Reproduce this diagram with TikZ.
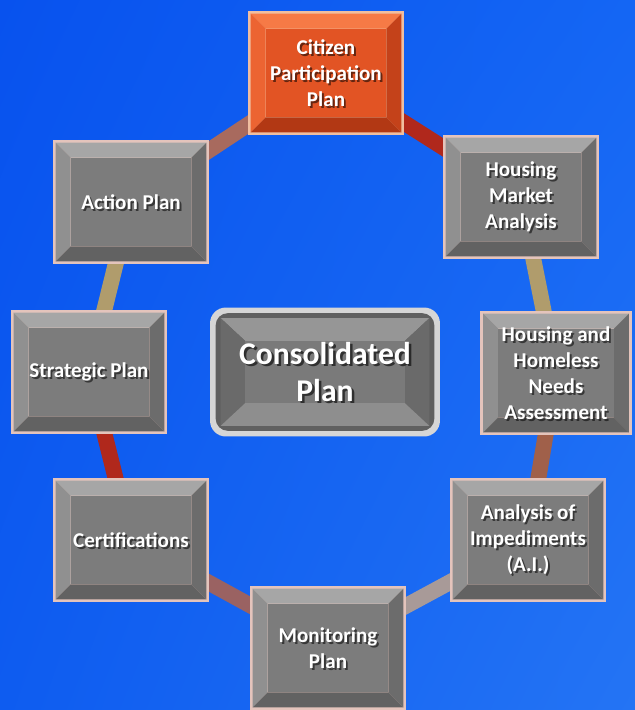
\documentclass[tikz,border=0pt]{standalone}
\usepackage{fontspec}
\setmainfont{Carlito}
\usetikzlibrary{shadings}
\pgfdeclarelayer{back}
\pgfdeclarelayer{conn}
\pgfsetlayers{back,conn,main}
\definecolor{bgUL}{RGB}{8,82,238}
\definecolor{bgUR}{RGB}{20,102,244}
\definecolor{bgLL}{RGB}{14,92,240}
\definecolor{bgLR}{RGB}{36,116,244}
\definecolor{cPink}{RGB}{168,106,94}
\definecolor{cRed}{RGB}{176,40,28}
\definecolor{cTan}{RGB}{176,156,108}
\definecolor{cBrown}{RGB}{160,96,74}
\definecolor{cGreyPink}{RGB}{168,154,152}
\definecolor{cMauve}{RGB}{154,98,98}
\definecolor{gRim}{RGB}{228,196,188}
\definecolor{gTop}{RGB}{166,166,166}
\definecolor{gLeft}{RGB}{144,144,144}
\definecolor{gRight}{RGB}{108,108,108}
\definecolor{gBot}{RGB}{98,98,98}
\definecolor{gFace}{RGB}{124,124,124}
\definecolor{oRim}{RGB}{240,190,160}
\definecolor{oTop}{RGB}{246,122,70}
\definecolor{oLeft}{RGB}{236,100,50}
\definecolor{oRight}{RGB}{196,66,26}
\definecolor{oBot}{RGB}{178,56,20}
\definecolor{oFace}{RGB}{226,84,36}
\definecolor{kRim}{RGB}{214,214,214}
\definecolor{kDark}{RGB}{96,96,96}
\definecolor{kTop}{RGB}{150,150,150}
\definecolor{kSide}{RGB}{106,106,106}
\definecolor{kBot}{RGB}{142,142,142}
\definecolor{kFace}{RGB}{122,122,122}
\tikzset{
  bvtop/.store in=\bvtop, bvleft/.store in=\bvleft, bvright/.store in=\bvright,
  bvbot/.store in=\bvbot, bvface/.store in=\bvface, bvtext/.store in=\bvtext,
  bvfont/.store in=\bvfont,
  bevelbox/.style={rectangle, inner sep=2pt, text=white, align=center,
    font=\bvfont, minimum width=3.14cm, minimum height=2.5cm,
    path picture={
      \coordinate (o1) at ([shift={(1.8pt,-1.8pt)}]path picture bounding box.north west);
      \coordinate (o2) at ([shift={(-1.8pt,-1.8pt)}]path picture bounding box.north east);
      \coordinate (o3) at ([shift={(-1.8pt,1.8pt)}]path picture bounding box.south east);
      \coordinate (o4) at ([shift={(1.8pt,1.8pt)}]path picture bounding box.south west);
      \coordinate (i1) at ([shift={(8.5pt,-8.5pt)}]o1);
      \coordinate (i2) at ([shift={(-8.5pt,-8.5pt)}]o2);
      \coordinate (i3) at ([shift={(-8.5pt,8.5pt)}]o3);
      \coordinate (i4) at ([shift={(8.5pt,8.5pt)}]o4);
      \fill[\bvtop] (o1) -- (o2) -- (i2) -- (i1) -- cycle;
      \fill[\bvleft] (o1) -- (i1) -- (i4) -- (o4) -- cycle;
      \fill[\bvright] (o2) -- (o3) -- (i3) -- (i2) -- cycle;
      \fill[\bvbot] (o4) -- (i4) -- (i3) -- (o3) -- cycle;
      \fill[\bvface] (i1) rectangle (i3);
      \node[draw=none, fill=none, text=black, opacity=.55, align=center, inner sep=2pt,
            minimum width=0pt, minimum height=0pt, font=\bvfont]
        at ([shift={(1.1pt,-1.1pt)}]path picture bounding box.center) {\bvtext};
    }},
  greybox/.style={bevelbox, fill=gRim, bvtop=gTop, bvleft=gLeft, bvright=gRight,
    bvbot=gBot, bvface=gFace, bvfont=\bfseries\fontsize{12}{14.8}\selectfont},
  orangebox/.style={bevelbox, fill=oRim, bvtop=oTop, bvleft=oLeft, bvright=oRight,
    bvbot=oBot, bvface=oFace, bvfont=\bfseries\fontsize{12}{14.8}\selectfont},
  mainbox/.style={rectangle, rounded corners=9pt, fill=kRim, text=white, align=center,
    inner sep=2pt, minimum width=4.6cm, minimum height=2.58cm, font=\bvfont,
    bvfont=\bfseries\fontsize{18}{21}\selectfont,
    path picture={
      \fill[kDark, rounded corners=7pt]
        ([shift={(3.2pt,-3.2pt)}]path picture bounding box.north west) rectangle
        ([shift={(-3.2pt,3.2pt)}]path picture bounding box.south east);
      \coordinate (o1) at ([shift={(6pt,-6pt)}]path picture bounding box.north west);
      \coordinate (o2) at ([shift={(-6pt,-6pt)}]path picture bounding box.north east);
      \coordinate (o3) at ([shift={(-6pt,6pt)}]path picture bounding box.south east);
      \coordinate (o4) at ([shift={(6pt,6pt)}]path picture bounding box.south west);
      \coordinate (i1) at ([shift={(14pt,-13pt)}]o1);
      \coordinate (i2) at ([shift={(-14pt,-13pt)}]o2);
      \coordinate (i3) at ([shift={(-14pt,13pt)}]o3);
      \coordinate (i4) at ([shift={(14pt,13pt)}]o4);
      \fill[kTop, sharp corners] (o1) -- (o2) -- (i2) -- (i1) -- cycle;
      \fill[kSide, sharp corners] (o1) -- (i1) -- (i4) -- (o4) -- cycle;
      \fill[kSide, sharp corners] (o2) -- (o3) -- (i3) -- (i2) -- cycle;
      \fill[kBot, sharp corners] (o4) -- (i4) -- (i3) -- (o3) -- cycle;
      \fill[kFace, sharp corners] (i1) rectangle (i3);
      \node[draw=none, fill=none, text=black, opacity=.6, align=center, inner sep=2pt,
            minimum width=0pt, minimum height=0pt, font=\bvfont, sharp corners]
        at ([shift={(1.4pt,-1.4pt)}]path picture bounding box.center) {\bvtext};
    }},
  band/.style={line width=9pt, line cap=butt}
}
\newcommand\bbox[4]{\node[#3, bvtext={#4}] (#1) at (#2) {#4};}
\begin{document}
\begin{tikzpicture}[x=0.02cm, y=-0.02cm]
\useasboundingbox (0,0) rectangle (635,710);
\begin{pgfonlayer}{back}
  \shade[upper left=bgUL, upper right=bgUR, lower left=bgLL, lower right=bgLR]
    (0,0) rectangle (635,710);
\end{pgfonlayer}
\bbox{cit}{326,73}{orangebox}{Citizen\\Participation\\Plan}
\bbox{hma}{521,197}{greybox}{Housing\\Market\\Analysis}
\bbox{hho}{556,373}{greybox, minimum width=3.04cm}{Housing and\\Homeless\\Needs\\Assessment}
\bbox{aoi}{528,540}{greybox}{Analysis of\\Impediments\\(A.I.)}
\bbox{mon}{328,648}{greybox}{Monitoring\\Plan}
\bbox{cer}{131,540}{greybox}{Certifications}
\bbox{str}{89,372}{greybox}{Strategic Plan}
\bbox{act}{131,202}{greybox}{Action Plan}
\bbox{con}{325,372}{mainbox}{Consolidated\\Plan}
\begin{pgfonlayer}{conn}
  \draw[band, cPink] (act.center) -- (cit.center);
  \draw[band, cRed] (cit.center) -- (hma.center);
  \draw[band, cTan] (hma.center) -- (hho.center);
  \draw[band, cBrown] (hho.center) -- (aoi.center);
  \draw[band, cGreyPink] (aoi.center) -- (mon.center);
  \draw[band, cMauve] (mon.center) -- (cer.center);
  \draw[band, cRed] (cer.center) -- (str.center);
  \draw[band, cTan] (str.center) -- (act.center);
\end{pgfonlayer}
\end{tikzpicture}
\end{document}
